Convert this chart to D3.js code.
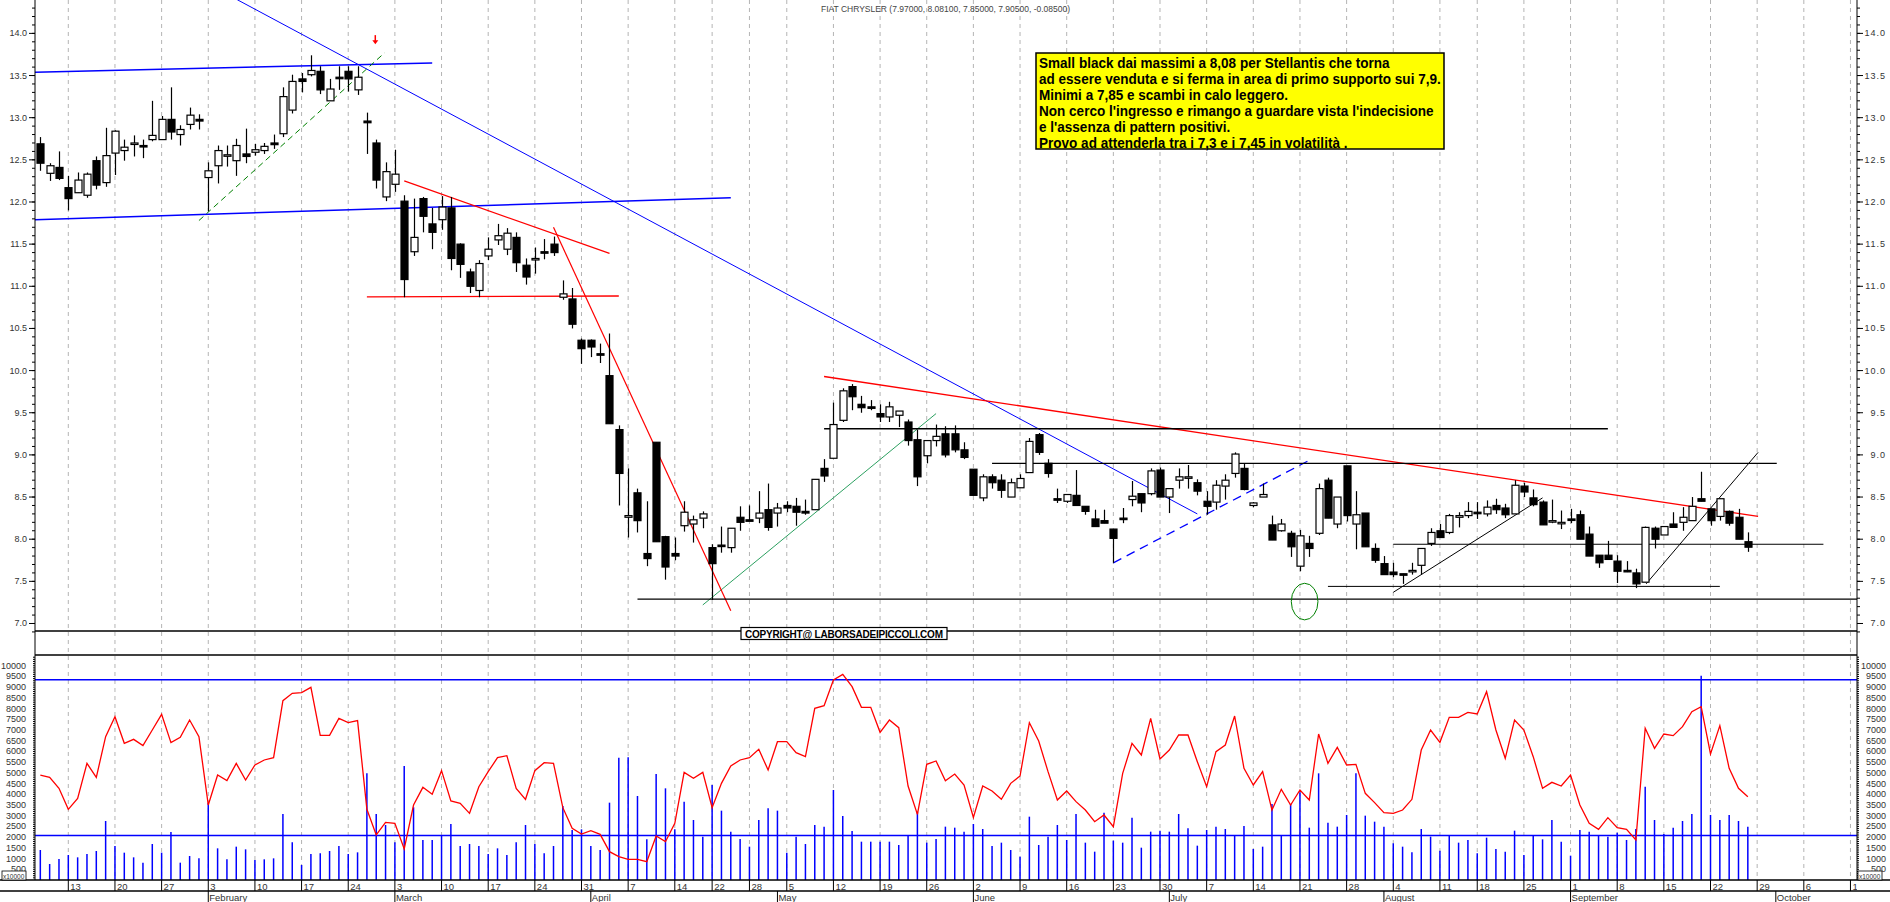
<!DOCTYPE html>
<html><head><meta charset="utf-8">
<script src="https://cdn.jsdelivr.net/npm/d3@7"></script>
<style>body{margin:0;background:#fff}svg{display:block}text{font-family:"Liberation Sans",Arial,sans-serif}</style>
</head><body><svg id="c" width="1890" height="902"></svg>
<script>
// ---------- data ----------
const title = "FIAT CHRYSLER (7.97000, 8.08100, 7.85000, 7.90500, -0.08500)";
const firstDay = "2025-01-08";
const holidays = ["2025-04-18","2025-04-21","2025-05-01","2025-08-15"];
const open = [12.69,12.34,12.41,12.17,12.11,12.08,12.49,12.23,12.58,12.61,12.69,12.67,12.74,12.74,12.98,12.80,12.92,12.98,12.29,12.43,
12.55,12.49,12.57,12.59,12.61,12.70,12.81,13.09,13.46,13.51,13.55,13.20,13.48,13.55,13.33,12.96,12.70,12.06,12.21,12.01,
11.41,12.04,11.74,11.79,11.93,11.50,11.17,10.95,11.36,11.55,11.44,11.58,11.25,11.33,11.41,11.50,10.87,10.85,10.36,10.36,
10.20,9.94,9.30,8.26,8.55,7.83,9.15,8.03,7.83,8.16,8.18,8.25,7.90,7.93,7.90,8.26,8.23,8.25,8.35,8.31,
8.40,8.39,8.33,8.35,8.84,8.96,9.41,9.81,9.60,9.57,9.49,9.45,9.47,9.39,9.18,8.99,9.17,9.25,9.25,9.06,
8.83,8.49,8.74,8.70,8.50,8.61,8.79,9.24,8.90,8.48,8.45,8.52,8.39,8.24,8.22,8.12,8.25,8.47,8.54,8.54,
8.82,8.50,8.70,8.74,8.67,8.45,8.44,8.63,8.78,8.84,8.40,8.50,8.17,8.10,8.07,7.68,7.95,8.07,8.70,8.18,
8.87,8.18,8.31,7.89,7.71,7.61,7.59,7.63,7.69,7.95,8.10,8.08,8.26,8.28,8.32,8.30,8.40,8.37,8.30,8.63,
8.49,8.44,8.22,8.20,8.24,8.29,8.06,7.81,7.81,7.74,7.63,7.60,7.49,8.13,8.05,8.18,8.20,8.22,8.48,8.36,
8.27,8.33,8.26,7.97];
const high = [12.77,12.46,12.60,12.31,12.35,12.35,12.54,12.88,12.85,12.74,12.79,12.74,13.20,13.02,13.36,12.91,13.12,13.04,12.47,12.67,
12.67,12.75,12.87,12.69,12.70,12.80,13.36,13.51,13.53,13.74,13.61,13.46,13.61,13.61,13.61,13.06,12.74,12.47,12.62,12.08,
12.04,12.06,11.93,12.07,12.06,11.51,11.21,11.31,11.58,11.74,11.69,11.64,11.33,11.46,11.56,11.59,11.07,10.98,10.38,10.37,
10.32,10.44,9.35,8.84,8.60,8.45,9.15,8.04,8.02,8.45,8.28,8.33,7.94,8.15,8.13,8.39,8.40,8.57,8.66,8.43,
8.45,8.49,8.47,8.71,8.95,9.62,9.79,9.84,9.70,9.65,9.60,9.63,9.52,9.42,9.30,9.17,9.36,9.34,9.35,9.15,
8.83,8.77,8.77,8.77,8.72,8.77,9.20,9.26,8.95,8.60,8.53,8.82,8.39,8.35,8.35,8.12,8.37,8.69,8.54,8.84,
8.85,8.60,8.84,8.88,8.71,8.57,8.70,8.77,9.03,8.90,8.44,8.66,8.28,8.24,8.10,8.11,8.04,8.66,8.73,8.50,
8.87,8.57,8.31,7.95,7.80,7.72,7.59,7.72,7.89,8.13,8.18,8.30,8.32,8.44,8.44,8.46,8.48,8.42,8.70,8.67,
8.59,8.46,8.47,8.34,8.36,8.34,8.15,7.81,7.98,7.81,7.74,7.65,8.15,8.15,8.15,8.32,8.38,8.50,8.80,8.36,
8.48,8.34,8.36,8.081];
const low = [12.37,12.25,12.26,11.90,12.11,12.05,12.15,12.18,12.32,12.49,12.54,12.52,12.72,12.74,12.74,12.67,12.86,12.86,11.89,12.22,
12.42,12.31,12.46,12.55,12.57,12.63,12.77,13.05,13.30,13.49,13.28,13.20,13.33,13.31,13.27,12.57,12.16,12.01,12.12,10.87,
11.36,11.64,11.44,11.67,11.19,11.10,10.92,10.87,11.31,11.49,11.37,11.17,11.02,11.15,11.32,11.36,10.84,10.50,10.08,10.16,
10.09,9.37,8.40,8.02,8.08,7.68,7.97,7.52,7.75,8.09,7.96,8.13,7.28,7.84,7.84,8.10,8.22,8.19,8.10,8.15,
8.32,8.16,8.29,8.35,8.68,8.96,9.39,9.53,9.50,9.53,9.39,9.39,9.33,9.11,8.63,8.90,9.10,8.97,9.03,8.95,
8.52,8.45,8.60,8.49,8.50,8.61,8.79,9.00,8.73,8.43,8.43,8.40,8.29,8.15,8.19,7.72,8.19,8.39,8.32,8.52,
8.50,8.31,8.60,8.60,8.52,8.29,8.35,8.47,8.73,8.58,8.38,8.50,7.99,8.09,7.79,7.62,7.79,8.05,8.25,8.13,
8.21,7.88,7.91,7.72,7.58,7.55,7.47,7.58,7.58,7.92,8.02,8.06,8.14,8.25,8.24,8.27,8.30,8.25,8.30,8.50,
8.39,8.17,8.19,8.12,8.19,8.00,7.80,7.66,7.76,7.48,7.61,7.42,7.49,7.89,8.05,8.14,8.10,8.22,8.45,8.16,
8.22,8.16,8.00,7.85];
const close = [12.46,12.43,12.28,12.04,12.26,12.33,12.20,12.55,12.84,12.65,12.70,12.66,12.79,12.98,12.83,12.86,13.03,12.96,12.37,12.61,
12.56,12.67,12.54,12.62,12.66,12.68,13.25,13.43,13.43,13.56,13.33,13.34,13.47,13.46,13.48,12.94,12.26,12.36,12.33,11.08,
11.58,11.83,11.64,11.94,11.33,11.26,11.00,11.27,11.44,11.60,11.63,11.28,11.11,11.33,11.40,11.40,10.91,10.55,10.26,10.28,
10.19,9.37,8.78,8.28,8.22,7.77,7.97,7.67,7.80,8.32,8.23,8.30,7.71,7.92,8.13,8.20,8.22,8.31,8.14,8.37,
8.37,8.32,8.31,8.71,8.75,9.36,9.76,9.69,9.56,9.56,9.45,9.57,9.52,9.17,8.74,9.17,9.22,9.00,9.06,8.97,
8.52,8.74,8.67,8.58,8.67,8.72,9.16,9.03,8.78,8.47,8.53,8.40,8.33,8.15,8.19,8.01,8.24,8.51,8.43,8.81,
8.50,8.60,8.74,8.74,8.57,8.39,8.64,8.70,9.01,8.59,8.43,8.53,7.99,8.18,7.91,8.04,7.89,8.60,8.25,8.50,
8.28,8.29,7.91,7.75,7.58,7.58,7.58,7.63,7.89,8.08,8.02,8.28,8.28,8.33,8.31,8.38,8.35,8.29,8.64,8.56,
8.41,8.17,8.22,8.20,8.23,8.00,7.80,7.72,7.76,7.62,7.62,7.47,8.14,8.00,8.15,8.14,8.26,8.39,8.45,8.22,
8.48,8.19,8.00,7.905];
const volume = [1400,747,980,1167,1058,1214,1354,2754,1587,1276,1058,809,1680,1276,2240,809,1120,1011,3600,1478,
965,1556,1431,934,965,1011,3081,1758,700,1214,1245,1354,1587,1214,1291,4979,3081,2567,1758,5321,
3392,1867,1867,2100,2614,1587,1680,1587,1214,1478,1167,1758,2567,1680,1245,1587,3454,2334,2365,1587,
1400,3610,5711,5726,3921,1900,4948,4279,2365,3657,2801,2023,4435,3237,2256,1914,1556,2800,3345,3237,
1276,2023,1680,2567,2490,4201,2988,2287,1789,1789,1789,1789,1634,2100,3190,1743,1914,2490,2443,2256,
2614,2381,1587,1743,1400,1089,2956,1634,2023,2567,1867,3081,1743,1323,3143,1836,1743,2910,1509,2256,
2303,2256,3081,2412,1603,2334,2490,2380,2100,2520,1447,1556,3548,2100,3548,4092,2443,4979,2676,2490,
3034,4979,3003,2723,2490,1712,1556,1291,2380,2023,1369,2054,1743,1867,1245,1976,1447,1323,2303,1167,
2100,1898,2801,1789,1136,2334,2256,2100,2023,2210,1867,2380,4357,2801,2147,2443,2754,3081,9538,3034,
2801,3034,2754,2490];
const volumeAvg = [4901,4792,4279,3299,3812,5446,4792,6691,7624,6380,6566,6271,7002,7733,6411,6660,7469,6691,3501,4901,
4637,5446,4668,5368,5602,5711,8371,8714,8745,8994,6753,6753,7547,7344,7438,3299,2101,2692,2645,1447,
3501,4326,3999,5104,3688,3579,3112,4357,5057,5711,5804,4279,3766,5104,5477,5446,3377,2412,2147,2303,
2132,1323,1089,965,965,856,2054,1789,2645,5026,4746,5026,3377,4512,5322,5602,5711,6100,5135,6457,
6457,5944,5757,8013,8138,9336,9601,9025,8060,8060,6893,7469,7111,4388,3065,5399,5555,4637,4948,4435,
2925,4388,4155,3766,4512,4855,7344,6489,5057,3734,4155,3657,3268,2723,3034,2490,4979,6380,5835,7547,
5648,6068,6769,6769,5524,4357,5991,6302,7656,5213,4435,5057,3268,4232,3501,4201,3734,6815,5446,6193,
5368,5399,4046,3610,3143,3112,3268,3766,6068,7002,6426,7593,7593,7827,7749,8792,7002,5680,7469,7002,
5757,4279,4559,4388,4901,3501,2645,2365,2910,2443,2365,1867,7080,6146,6815,6738,7158,7858,8091,5882,
7205,5213,4279,3890];
const volumeLevels = [9350, 2080];
const priceTicks = [7.0,7.5,8.0,8.5,9.0,9.5,10.0,10.5,11.0,11.5,12.0,12.5,13.0,13.5,14.0];
const volumeTicks = [500,1000,1500,2000,2500,3000,3500,4000,4500,5000,5500,6000,6500,7000,7500,8000,8500,9000,9500,10000];
const monthNames = ["January","February","March","April","May","June","July","August","September","October","November","December"];
// drawn trend lines: [index, price] pairs
const trendLines = [
  {pts:[[-0.6,13.54],[42,13.65]], color:"#0000ff", w:1.5},
  {pts:[[-0.6,11.79],[74,12.05]], color:"#0000ff", w:1.5},
  {pts:[[21.1,14.40],[124,8.30]], color:"#0000ff", w:1},
  {pts:[[115,7.72],[135.9,8.93]], color:"#0000ff", w:1.3, dash:"9,6"},
  {pts:[[17,11.78],[36.9,13.77]], color:"#008000", w:1, dash:"6,4"},
  {pts:[[71,7.22],[96,9.49]], color:"#2ca060", w:1},
  {pts:[[39,12.25],[61,11.39]], color:"#ff0000", w:1.2},
  {pts:[[35,10.875],[62,10.885]], color:"#ff0000", w:1.3},
  {pts:[[55,11.70],[74,7.15]], color:"#ff0000", w:1.2},
  {pts:[[84,9.93],[184.1,8.27]], color:"#ff0000", w:1.3},
  {pts:[[64,7.29],[195,7.29]], color:"#000", w:1.3},
  {pts:[[84,9.31],[168,9.31]], color:"#000", w:1.3},
  {pts:[[102,8.90],[186.1,8.90]], color:"#000", w:1.3},
  {pts:[[138,7.44],[180,7.44]], color:"#000", w:1},
  {pts:[[145,7.94],[191.1,7.94]], color:"#000", w:1},
  {pts:[[145,7.37],[161,8.49]], color:"#000", w:1},
  {pts:[[172.1,7.47],[184.1,9.03]], color:"#000", w:1}
];
const ellipse = {i:135.5, p:7.26, ri:1.43, rp:0.217};
const arrowMark = {i:35.9, p:13.92};
const note = ["Small black dai massimi a 8,08 per  Stellantis che torna",
"ad essere venduta e si ferma in area di primo supporto sui 7,9.",
"Minimi a 7,85 e scambi in calo leggero.",
"Non cerco l'ingresso e rimango a guardare vista l'indecisione",
"e l'assenza di pattern positivi.",
"Provo ad attenderla tra i 7,3 e i 7,45 in volatilità ."];
const copyright = "COPYRIGHT@ LABORSADEIPICCOLI.COM";

// ---------- calendar ----------
const days = [];
{ let d = new Date(firstDay+"T12:00:00Z");
  while (days.length < 200) {
    const wd = d.getUTCDay(), s = d.toISOString().slice(0,10);
    if (wd!==0 && wd!==6 && !holidays.includes(s)) days.push(new Date(d));
    d = new Date(d.getTime()+86400000);
  } }

// ---------- scales ----------
const L = 35, R = 1857;
const x = d3.scaleLinear().domain([-0.57,194.7]).range([L,R]);
const y = d3.scaleLinear().domain([6.911,14.396]).range([631,0]);
const yv = d3.scaleLinear().domain([0,10503]).range([880,655]);
const svg = d3.select("#c");
svg.append("defs").append("clipPath").attr("id","plot").append("rect").attr("x",L).attr("y",0).attr("width",R-L).attr("height",902);
const g = svg.append("g").attr("clip-path","url(#plot)");

const weekIdx = [], monthIdx = [];
days.forEach((d,i)=>{
  if (i>0) {
    const p = days[i-1];
    if (d.getUTCDay() < p.getUTCDay() || (d - p) > 3*86400000) weekIdx.push(i);
    if (d.getUTCMonth() !== p.getUTCMonth()) monthIdx.push(i);
  }
});
g.selectAll(".grid").data(weekIdx).join("line")
 .attr("x1",i=>x(i)).attr("x2",i=>x(i)).attr("y1",0).attr("y2",880)
 .attr("stroke","#b4b4b4").attr("stroke-dasharray","4,4");

[631,655].forEach(v=>svg.append("line").attr("x1",L).attr("x2",R).attr("y1",v).attr("y2",v).attr("stroke","#000").attr("stroke-width",1.5));
svg.append("line").attr("x1",0).attr("x2",1890).attr("y1",880).attr("y2",880).attr("stroke","#000").attr("stroke-width",1.5);
svg.append("line").attr("x1",0).attr("x2",1890).attr("y1",891).attr("y2",891).attr("stroke","#000").attr("stroke-width",1.5);
[L,R].forEach(v=>svg.append("line").attr("x1",v).attr("x2",v).attr("y1",0).attr("y2",880).attr("stroke","#000"));

const pMinor = d3.range(69,144).map(v=>v/10);
svg.selectAll(".pm").data(pMinor).join("line").attr("x1",L-3).attr("x2",L).attr("y1",d=>y(d)).attr("y2",d=>y(d)).attr("stroke","#000");
svg.selectAll(".pm2").data(pMinor).join("line").attr("x1",R).attr("x2",R+3).attr("y1",d=>y(d)).attr("y2",d=>y(d)).attr("stroke","#000");
svg.selectAll(".pM").data(priceTicks).join("line").attr("x1",L-6).attr("x2",L).attr("y1",d=>y(d)).attr("y2",d=>y(d)).attr("stroke","#000");
svg.selectAll(".pM2").data(priceTicks).join("line").attr("x1",R).attr("x2",R+6).attr("y1",d=>y(d)).attr("y2",d=>y(d)).attr("stroke","#000");
svg.selectAll(".pl").data(priceTicks).join("text").attr("x",27).attr("y",d=>y(d)+3).attr("text-anchor","end")
 .attr("font-size",9).attr("fill","#333").text(d=>d.toFixed(1));
svg.selectAll(".pr").data(priceTicks).join("text").attr("x",1886).attr("y",d=>y(d)+3).attr("text-anchor","end")
 .attr("font-size",9).attr("fill","#333").attr("letter-spacing",1).text(d=>d.toFixed(1));
const vMinor = d3.range(100,10500,100);
svg.selectAll(".vm").data(vMinor).join("line").attr("x1",L-2).attr("x2",L).attr("y1",d=>yv(d)).attr("y2",d=>yv(d)).attr("stroke","#000");
svg.selectAll(".vm2").data(vMinor).join("line").attr("x1",R).attr("x2",R+2).attr("y1",d=>yv(d)).attr("y2",d=>yv(d)).attr("stroke","#000");
svg.selectAll(".vl").data(volumeTicks).join("text").attr("x",26).attr("y",d=>yv(d)+3).attr("text-anchor","end")
 .attr("font-size",9).attr("fill","#333").text(d=>d);
svg.selectAll(".vr").data(volumeTicks).join("text").attr("x",1886).attr("y",d=>yv(d)+3).attr("text-anchor","end")
 .attr("font-size",9).attr("fill","#333").text(d=>d);
[[2,26],[1858,1882]].forEach(([a,b])=>{
  svg.append("rect").attr("x",a).attr("y",871).attr("width",b-a).attr("height",9).attr("fill","#fff").attr("stroke","#000").attr("stroke-width",0.8);
  svg.append("text").attr("x",a+1).attr("y",878.5).attr("font-size",6.5).attr("fill","#333").text("x10000");
});

g.selectAll(".wt").data(weekIdx).join("line").attr("x1",i=>x(i)).attr("x2",i=>x(i)).attr("y1",880).attr("y2",891).attr("stroke","#000");
g.selectAll(".wl").data(weekIdx).join("text").attr("x",i=>x(i)+2).attr("y",889.5).attr("font-size",9.5).attr("fill","#333")
 .text(i=>days[i].getUTCDate());
g.selectAll(".mt").data(monthIdx).join("line").attr("x1",i=>x(i)).attr("x2",i=>x(i)).attr("y1",891).attr("y2",902).attr("stroke","#000");
g.selectAll(".ml").data(monthIdx).join("text").attr("x",i=>x(i)+1).attr("y",900.5).attr("font-size",9.5).attr("fill","#333")
 .text(i=>monthNames[days[i].getUTCMonth()]);

svg.append("text").attr("x",821).attr("y",12).attr("font-size",8.5).attr("fill","#444").attr("textLength",249).text(title);

g.selectAll(".vb").data(volume).join("line").attr("x1",(d,i)=>x(i)).attr("x2",(d,i)=>x(i))
 .attr("y1",880).attr("y2",d=>yv(d)).attr("stroke","#0000ff").attr("stroke-width",1.5);
volumeLevels.forEach(v=>g.append("line").attr("x1",L).attr("x2",R).attr("y1",yv(v)).attr("y2",yv(v)).attr("stroke","#0000ff").attr("stroke-width",1.5));
g.append("path").datum(volumeAvg).attr("fill","none").attr("stroke","#ff0000").attr("stroke-width",1.3)
 .attr("d",d3.line().x((d,i)=>x(i)).y(d=>yv(d)));

const tl = d3.line().x(d=>x(d[0])).y(d=>y(d[1]));
g.selectAll(".tl").data(trendLines).join("path").attr("d",d=>tl(d.pts)).attr("fill","none")
 .attr("stroke",d=>d.color).attr("stroke-width",d=>d.w).attr("stroke-dasharray",d=>d.dash||null);
g.append("ellipse").attr("cx",x(ellipse.i)).attr("cy",y(ellipse.p))
 .attr("rx",x(ellipse.ri)-x(0)).attr("ry",y(0)-y(ellipse.rp)).attr("fill","none").attr("stroke","#008000").attr("stroke-width",1);
{ const ax=x(arrowMark.i), ay=y(arrowMark.p);
  g.append("line").attr("x1",ax).attr("x2",ax).attr("y1",ay-5).attr("y2",ay+1).attr("stroke","#ff0000").attr("stroke-width",1.5);
  g.append("path").attr("d",`M${ax-3},${ay}L${ax+3},${ay}L${ax},${ay+4}Z`).attr("fill","#ff0000"); }

const idx = d3.range(open.length);
const cg = g.append("g");
cg.selectAll(".wk").data(idx).join("line").attr("x1",i=>Math.round(x(i))+0.5).attr("x2",i=>Math.round(x(i))+0.5)
 .attr("y1",i=>y(high[i])).attr("y2",i=>y(low[i])).attr("stroke","#000").attr("stroke-width",1.2);
cg.selectAll(".bd").data(idx).join("rect")
 .attr("x",i=>Math.round(x(i))-3).attr("width",7)
 .attr("y",i=>y(Math.max(open[i],close[i])))
 .attr("height",i=>Math.max(1.5,Math.abs(y(open[i])-y(close[i]))))
 .attr("fill",i=>close[i]<open[i]?"#000":"#fff").attr("stroke","#000").attr("stroke-width",1.2);

svg.append("rect").attr("x",1036).attr("y",53).attr("width",408).attr("height",96).attr("fill","#ffff00").attr("stroke","#000").attr("stroke-width",1.5);
const ng = svg.append("g").attr("transform","translate(1039,0)");
const nts = ng.selectAll(".nt").data(note).join("text").attr("x",0).attr("y",(d,i)=>68+i*16)
 .attr("font-family","'Liberation Sans Narrow','Arial Narrow','Liberation Sans',sans-serif").attr("font-weight","bold").attr("font-size",14).attr("fill","#000").text(d=>d);
{ let mw = 0; nts.each(function(){ mw = Math.max(mw, this.getComputedTextLength()); });
  if (mw > 402) ng.attr("transform",`translate(1039,0) scale(${402/mw},1)`); }
svg.append("rect").attr("x",741).attr("y",627.5).attr("width",206).attr("height",12).attr("fill","#fff").attr("stroke","#000").attr("stroke-width",1.2);
svg.append("text").attr("x",844).attr("y",637.5).attr("text-anchor","middle").attr("font-weight","bold").attr("font-size",10)
 .attr("textLength",198).attr("fill","#000").text(copyright);
</script></body></html>
